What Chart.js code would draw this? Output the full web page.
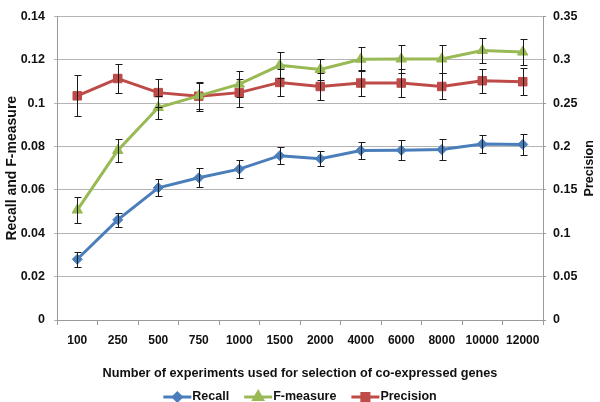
<!DOCTYPE html>
<html>
<head>
<meta charset="utf-8">
<script src="https://cdn.jsdelivr.net/npm/chart.js@4/dist/chart.umd.min.js"></script>
<style>
  body { margin: 0; background: #fff; }
  #wrap { width: 600px; height: 402px; }
</style>
</head>
<body>
<div id="wrap"><canvas id="chart" width="600" height="402"></canvas></div>
<script>
const categories = ["100", "250", "500", "750", "1000", "1500", "2000", "4000", "6000", "8000", "10000", "12000"];

const recall = [0.028, 0.0462, 0.061, 0.0656, 0.0696, 0.0758, 0.0744, 0.0782, 0.0783, 0.0786, 0.0812, 0.081];
const recallErr = [0.0035, 0.0033, 0.004, 0.0044, 0.004, 0.0038, 0.0034, 0.0038, 0.0047, 0.005, 0.0043, 0.0047];

const fMeasure = [0.0507, 0.0782, 0.098, 0.1034, 0.1088, 0.1175, 0.1156, 0.1203, 0.1204, 0.1204, 0.1243, 0.1236];
const fMeasureErr = [0.006, 0.0053, 0.0053, 0.006, 0.006, 0.006, 0.005, 0.0056, 0.0063, 0.0065, 0.0058, 0.006];

const precision = [0.2585, 0.2785, 0.2622, 0.2581, 0.2622, 0.274, 0.2693, 0.2733, 0.2733, 0.2693, 0.2759, 0.2748];
const precisionErr = [0.0235, 0.017, 0.016, 0.0167, 0.016, 0.016, 0.0154, 0.0147, 0.016, 0.015, 0.0137, 0.0155];

const leftTicks = [0, 0.02, 0.04, 0.06, 0.08, 0.1, 0.12, 0.14];
const rightTicks = [0, 0.05, 0.1, 0.15, 0.2, 0.25, 0.3, 0.35];

const errors = [recallErr, fMeasureErr, precisionErr];

const BLUE = "#4a7ebb";
const GREEN = "#98b954";
const RED = "#be4b48";
const GRID = "#b4b4b4";
const AXIS = "#9a9a9a";
const FONT = "'Liberation Sans', Arial, sans-serif";

// error bars, drawn through each dataset's own y scale
const errorBars = {
  id: "errorBars",
  afterDatasetsDraw(chart) {
    const ctx = chart.ctx;
    ctx.save();
    ctx.strokeStyle = "#1a1a1a";
    ctx.lineWidth = 1;
    chart.data.datasets.forEach((ds, i) => {
      const meta = chart.getDatasetMeta(i);
      const scale = chart.scales[meta.yAxisID];
      meta.data.forEach((pt, j) => {
        const v = ds.data[j];
        const e = errors[i][j];
        const top = Math.round(scale.getPixelForValue(v + e)) + 0.5;
        const bot = Math.round(scale.getPixelForValue(v - e)) + 0.5;
        const x = Math.round(pt.x) + 0.5;
        ctx.beginPath();
        ctx.moveTo(x, top);
        ctx.lineTo(x, bot);
        ctx.moveTo(x - 3, top);
        ctx.lineTo(x + 4, top);
        ctx.moveTo(x - 3, bot);
        ctx.lineTo(x + 4, bot);
        ctx.stroke();
      });
    });
    ctx.restore();
  },
};

// right axis title reads bottom-to-top, like the left one
const rightTitle = {
  id: "rightTitle",
  afterDraw(chart) {
    const ctx = chart.ctx;
    const area = chart.chartArea;
    ctx.save();
    ctx.translate(590, (area.top + area.bottom) / 2);
    ctx.rotate(-Math.PI / 2);
    ctx.font = "bold 12.5px " + FONT;
    ctx.fillStyle = "#111";
    ctx.textAlign = "center";
    ctx.textBaseline = "middle";
    ctx.fillText("Precision", 0, 0);
    ctx.restore();
  },
};

// legend: line with marker, like the spreadsheet legend
const lineLegend = {
  id: "lineLegend",
  afterDraw(chart) {
    const ctx = chart.ctx;
    const y = 397;
    const lineW = 28;
    const gap = 1;
    const spacing = 15;
    ctx.save();
    ctx.font = "bold 12.5px " + FONT;
    ctx.textBaseline = "middle";
    const items = chart.data.datasets.map((ds) => ({
      ds,
      w: lineW + gap + ctx.measureText(ds.label).width,
    }));
    const total = items.reduce((s, it) => s + it.w, 0) + spacing * (items.length - 1);
    let x = (chart.width - total) / 2;
    items.forEach(({ ds, w }) => {
      ctx.strokeStyle = ds.borderColor;
      ctx.lineWidth = 3;
      ctx.beginPath();
      ctx.moveTo(x, y);
      ctx.lineTo(x + lineW, y);
      ctx.stroke();
      ctx.fillStyle = ds.backgroundColor;
      Chart.helpers.drawPoint(ctx, {
        pointStyle: ds.pointStyle,
        radius: ds.pointRadius - 1,
        rotation: 0,
        borderWidth: 1,
      }, x + lineW / 2, y);
      ctx.fillStyle = "#111";
      ctx.fillText(ds.label, x + lineW + gap, y);
      x += w + spacing;
    });
    ctx.restore();
  },
};

function series(label, data, color, style, radius, axis) {
  return {
    label,
    data,
    yAxisID: axis,
    borderColor: color,
    backgroundColor: color,
    pointBackgroundColor: color,
    pointBorderColor: color,
    borderWidth: 3,
    pointStyle: style,
    pointRadius: radius,
    pointBorderWidth: 1,
    tension: 0,
  };
}

const tickLabel = (v) => String(Number(v.toFixed(2)));

new Chart(document.getElementById("chart"), {
  type: "line",
  data: {
    labels: categories,
    datasets: [
      series("Recall", recall, BLUE, "rectRot", 5, "y"),
      series("F-measure", fMeasure, GREEN, "triangle", 6, "y"),
      series("Precision", precision, RED, "rect", 6, "y1"),
    ],
  },
  options: {
    responsive: false,
    animation: false,
    layout: { padding: { top: 5, left: 0, right: 0, bottom: 0 } },
    plugins: {
      legend: { display: false },
      tooltip: { enabled: false },
    },
    scales: {
      x: {
        offset: true,
        grid: {
          offset: true,
          drawOnChartArea: false,
          color: AXIS,
          tickLength: 5,
        },
        border: { color: AXIS },
        ticks: {
          color: "#111",
          padding: 8,
          maxRotation: 0,
          autoSkip: false,
          font: { family: FONT, size: 12, weight: "bold" },
        },
        title: {
          display: true,
          text: "Number of experiments used for selection of co-expressed genes",
          color: "#111",
          font: { family: FONT, size: 12.7, weight: "bold" },
          padding: { top: 0, bottom: 21 },
        },
        afterFit(scale) {
          scale.height = 82;
        },
      },
      y: {
        position: "left",
        min: 0,
        max: 0.14,
        afterBuildTicks(scale) {
          scale.ticks = leftTicks.map((value) => ({ value }));
        },
        grid: { color: GRID, tickLength: 3 },
        border: { color: AXIS },
        ticks: {
          color: "#111",
          padding: 9,
          callback: tickLabel,
          font: { family: FONT, size: 12.5, weight: "bold" },
        },
        title: {
          display: true,
          text: "Recall and F-measure",
          color: "#111",
          font: { family: FONT, size: 14, weight: "bold" },
          padding: { top: 4, bottom: 0 },
        },
        afterFit(scale) {
          scale.width = 57;
        },
      },
      y1: {
        position: "right",
        min: 0,
        max: 0.35,
        afterBuildTicks(scale) {
          scale.ticks = rightTicks.map((value) => ({ value }));
        },
        grid: { drawOnChartArea: false, color: AXIS, tickLength: 3 },
        border: { color: AXIS },
        ticks: {
          color: "#111",
          padding: 7,
          callback: tickLabel,
          font: { family: FONT, size: 12.5, weight: "bold" },
        },
        afterFit(scale) {
          scale.width = 57;
        },
      },
    },
  },
  plugins: [errorBars, rightTitle, lineLegend],
});
</script>
</body>
</html>
